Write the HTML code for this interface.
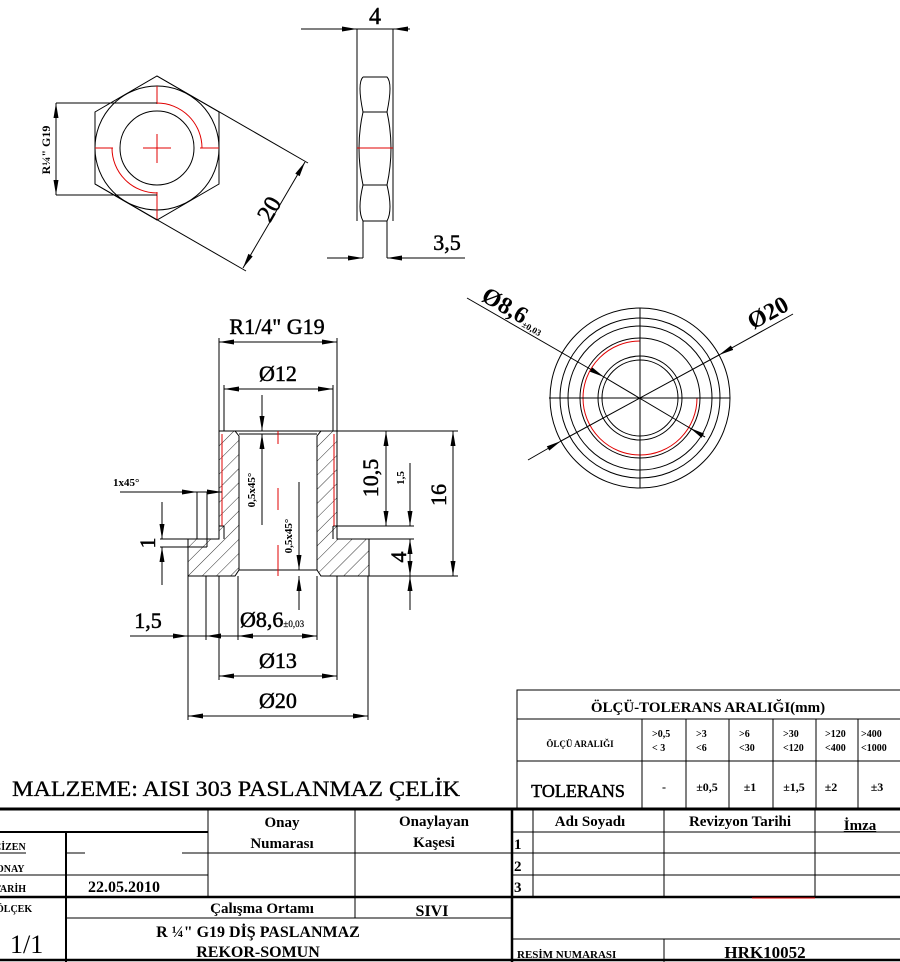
<!DOCTYPE html>
<html><head><meta charset="utf-8"><style>
html,body{margin:0;padding:0;background:#fff}
svg{display:block}
text{font-family:"Liberation Serif",serif;fill:#000}
.b{font-weight:bold}
.d{stroke:#000;stroke-width:0.5}
</style></head><body>
<svg width="900" height="962" viewBox="0 0 900 962" xmlns="http://www.w3.org/2000/svg">
<defs>
<marker id="a" markerUnits="userSpaceOnUse" markerWidth="16" markerHeight="8" refX="15" refY="4" orient="auto-start-reverse"><path d="M0,1.5 L15,4 L0,6.5 z" fill="#000"/></marker>
<pattern id="h" patternUnits="userSpaceOnUse" width="10" height="10" patternTransform="rotate(45)"><line x1="0" y1="0" x2="0" y2="10" stroke="#000" stroke-width="0.8"/></pattern>
</defs>
<g stroke="#000" stroke-width="1" fill="none">
<polygon points="157,76 219,112 219,184 157,220 95,184 95,112"/>
<circle cx="157" cy="148" r="62"/>
<circle cx="157" cy="148" r="37"/>
<g stroke="#e00000">
<path d="M157,103 A45,45 0 0 1 202,148"/>
<path d="M112,148 A45,45 0 0 0 157,193"/>
<line x1="95" y1="148" x2="113" y2="148"/><line x1="200" y1="148" x2="219" y2="148"/>
<line x1="157" y1="86" x2="157" y2="104"/><line x1="157" y1="192" x2="157" y2="220"/>
<line x1="143" y1="148" x2="171" y2="148"/><line x1="157" y1="134" x2="157" y2="163"/>
</g>
<line x1="56" y1="103" x2="157" y2="103"/><line x1="56" y1="195" x2="157" y2="195"/>
<line x1="56" y1="103" x2="56" y2="195" marker-start="url(#a)" marker-end="url(#a)"/>
<line x1="157" y1="76" x2="308" y2="163"/>
<line x1="95" y1="184" x2="246" y2="271"/>
<line x1="305" y1="162" x2="243" y2="268" marker-start="url(#a)" marker-end="url(#a)"/>
<line x1="357" y1="29" x2="357" y2="221"/><line x1="393" y1="29" x2="393" y2="221"/>
<path d="M363,77 L387,77 Q393,83 387,112 L363,112 Q357,83 363,77"/>
<path d="M363,112 L387,112 Q395,148 387,185 L363,185 Q355,148 363,112"/>
<path d="M363,185 L387,185 Q393,210 387,221 L363,221 Q357,210 363,185"/>
<line x1="363" y1="221" x2="363" y2="258"/><line x1="387" y1="221" x2="387" y2="258"/>
<line x1="357" y1="148" x2="393" y2="148" stroke="#e00000"/>
<line x1="301" y1="29" x2="357" y2="29" marker-end="url(#a)"/>
<line x1="410" y1="29" x2="393" y2="29" marker-end="url(#a)"/>
<line x1="357" y1="29" x2="393" y2="29"/>
<line x1="327" y1="258" x2="363" y2="258" marker-end="url(#a)"/>
<line x1="465" y1="258" x2="387" y2="258" marker-end="url(#a)"/>
<circle cx="640" cy="398" r="90"/><circle cx="640" cy="398" r="80"/><circle cx="640" cy="398" r="72"/>
<circle cx="640" cy="398" r="60"/><circle cx="640" cy="398" r="42"/><circle cx="640" cy="398" r="38"/>
<path d="M640,341 A57,57 0 1 0 697,398" stroke="#e00000"/>
<line x1="549" y1="398" x2="730" y2="398"/><line x1="640" y1="308" x2="640" y2="488"/>
<line x1="467" y1="298" x2="604" y2="377" marker-end="url(#a)"/>
<line x1="604" y1="377" x2="705" y2="437"/>
<line x1="705" y1="437" x2="690" y2="428" marker-end="url(#a)"/>
<line x1="528" y1="460" x2="561" y2="441" marker-end="url(#a)"/>
<line x1="561" y1="441" x2="719" y2="355"/>
<line x1="793" y1="314" x2="719" y2="355" marker-end="url(#a)"/>
<path d="M219,431 L235,431 L239,436 L239,570 L235,576 L188,576 L188,539 L219,539 Z" fill="url(#h)"/>
<path d="M337,431 L321,431 L317,436 L317,570 L321,576 L369,576 L369,539 L337,539 Z" fill="url(#h)"/>
<line x1="219" y1="431" x2="337" y2="431"/>
<line x1="239" y1="434" x2="317" y2="434"/><line x1="239" y1="570" x2="317" y2="570"/>
<line x1="224" y1="526" x2="224" y2="539"/><line x1="333" y1="526" x2="333" y2="539"/>
<line x1="219" y1="526" x2="224" y2="526"/><line x1="333" y1="526" x2="337" y2="526"/>
<line x1="222" y1="434" x2="222" y2="526" stroke="#e00000"/>
<line x1="334" y1="434" x2="334" y2="526" stroke="#e00000"/>
<g stroke="#e00000"><line x1="278" y1="431" x2="278" y2="444"/><line x1="278" y1="488" x2="278" y2="510"/><line x1="278" y1="545" x2="278" y2="576"/></g>
<line x1="219" y1="338" x2="219" y2="431"/><line x1="337" y1="338" x2="337" y2="431"/>
<line x1="219" y1="342" x2="337" y2="342" marker-start="url(#a)" marker-end="url(#a)"/>
<line x1="224" y1="385" x2="224" y2="431"/><line x1="333" y1="385" x2="333" y2="431"/>
<line x1="224" y1="389" x2="333" y2="389" marker-start="url(#a)" marker-end="url(#a)"/>
<line x1="337" y1="431" x2="458" y2="431"/><line x1="337" y1="526" x2="414" y2="526"/>
<line x1="369" y1="539" x2="414" y2="539"/><line x1="369" y1="576" x2="458" y2="576"/>
<line x1="386" y1="431" x2="386" y2="526" marker-start="url(#a)" marker-end="url(#a)"/>
<line x1="453" y1="431" x2="453" y2="576" marker-start="url(#a)" marker-end="url(#a)"/>
<line x1="410" y1="463" x2="410" y2="526" marker-end="url(#a)"/>
<line x1="410" y1="576" x2="410" y2="539" marker-end="url(#a)"/>
<line x1="410" y1="539" x2="410" y2="576" marker-end="url(#a)"/>
<line x1="410" y1="610" x2="410" y2="576" marker-end="url(#a)"/>
<line x1="120" y1="492" x2="197" y2="492" marker-end="url(#a)"/>
<line x1="197" y1="492" x2="222" y2="492" marker-end="url(#a)"/>
<line x1="197" y1="492" x2="197" y2="539"/><line x1="207" y1="492" x2="207" y2="547"/>
<line x1="160" y1="539" x2="188" y2="539"/><line x1="160" y1="547" x2="207" y2="547"/>
<line x1="162" y1="502" x2="162" y2="539" marker-end="url(#a)"/>
<line x1="162" y1="585" x2="162" y2="547" marker-end="url(#a)"/>
<line x1="262" y1="395" x2="262" y2="431" marker-end="url(#a)"/>
<line x1="262" y1="525" x2="262" y2="434" marker-end="url(#a)"/>
<line x1="299" y1="482" x2="299" y2="570" marker-end="url(#a)"/>
<line x1="299" y1="610" x2="299" y2="576" marker-end="url(#a)"/>
<line x1="188" y1="576" x2="188" y2="720"/><line x1="206" y1="576" x2="206" y2="640"/>
<line x1="219" y1="576" x2="219" y2="680"/><line x1="238" y1="576" x2="238" y2="640"/>
<line x1="317" y1="576" x2="317" y2="640"/><line x1="337" y1="576" x2="337" y2="680"/>
<line x1="368" y1="576" x2="368" y2="720"/>
<line x1="130" y1="636" x2="188" y2="636" marker-end="url(#a)"/>
<line x1="188" y1="636" x2="238" y2="636"/>
<line x1="224" y1="636" x2="206" y2="636" marker-end="url(#a)"/>
<line x1="238" y1="636" x2="317" y2="636" marker-start="url(#a)" marker-end="url(#a)"/>
<line x1="219" y1="676" x2="337" y2="676" marker-start="url(#a)" marker-end="url(#a)"/>
<line x1="188" y1="716" x2="368" y2="716" marker-start="url(#a)" marker-end="url(#a)"/>
<rect x="517" y="690" width="390" height="118"/>
<line x1="517" y1="719" x2="900" y2="719"/><line x1="517" y1="761" x2="900" y2="761"/>
<line x1="642" y1="719" x2="642" y2="808"/><line x1="686" y1="719" x2="686" y2="808"/>
<line x1="729" y1="719" x2="729" y2="808"/><line x1="773" y1="719" x2="773" y2="808"/>
<line x1="816" y1="719" x2="816" y2="808"/><line x1="858" y1="719" x2="858" y2="808"/>
<line x1="0" y1="809" x2="900" y2="809" stroke-width="3"/>
<line x1="0" y1="897" x2="900" y2="897" stroke-width="2.5"/>
<line x1="0" y1="960" x2="900" y2="960" stroke-width="2.5"/>
<line x1="512" y1="809" x2="512" y2="962" stroke-width="2.5"/>
<line x1="0" y1="832" x2="208" y2="832" stroke-width="2"/>
<line x1="66" y1="832" x2="66" y2="962" stroke-width="2"/>
<line x1="208" y1="809" x2="208" y2="897"/>
<line x1="355" y1="809" x2="355" y2="918"/>
<line x1="0" y1="853" x2="26" y2="853"/><line x1="66" y1="853" x2="85" y2="853"/><line x1="182" y1="853" x2="512" y2="853"/>
<line x1="0" y1="875" x2="208" y2="875"/>
<line x1="66" y1="918" x2="512" y2="918"/>
<line x1="533" y1="809" x2="533" y2="897"/><line x1="664" y1="809" x2="664" y2="897"/><line x1="815" y1="809" x2="815" y2="897"/>
<line x1="512" y1="832" x2="900" y2="832"/><line x1="512" y1="853" x2="900" y2="853"/><line x1="512" y1="875" x2="900" y2="875"/>
<line x1="512" y1="939" x2="900" y2="939"/><line x1="664" y1="939" x2="664" y2="962"/>
<line x1="752" y1="898" x2="815" y2="898" stroke="#e00000"/>
</g>
<g class="d">
<text x="375" y="24" font-size="24" text-anchor="middle">4</text>
<text x="447" y="250" font-size="22" text-anchor="middle">3,5</text>
<text transform="translate(276,213) rotate(-60)" font-size="24" text-anchor="middle">20</text>
<text x="277" y="334" font-size="22" text-anchor="middle">R1/4" G19</text>
<text x="278" y="381" font-size="22" text-anchor="middle">Ø12</text>
<text transform="translate(378,478) rotate(-90)" font-size="22" text-anchor="middle">10,5</text>
<text transform="translate(446,495) rotate(-90)" font-size="22" text-anchor="middle">16</text>
<text transform="translate(406,557) rotate(-90)" font-size="22" text-anchor="middle">4</text>
<text transform="translate(155,543) rotate(-90)" font-size="22" text-anchor="middle">1</text>
<text x="148" y="628" font-size="22" text-anchor="middle">1,5</text>
<text x="240" y="627" font-size="22">Ø8,6<tspan font-size="9" stroke-width="0.2">±0,03</tspan></text>
<text x="278" y="668" font-size="22" text-anchor="middle">Ø13</text>
<text x="278" y="708" font-size="22" text-anchor="middle">Ø20</text>
<text x="12" y="796" font-size="22" textLength="448" lengthAdjust="spacingAndGlyphs" stroke-width="0.3">MALZEME: AISI 303 PASLANMAZ ÇELİK</text>
</g>
<text transform="translate(50,150) rotate(-90)" font-size="12" text-anchor="middle" class="b">R¼" G19</text>
<text transform="translate(480,300) rotate(30)" font-size="24" font-family="Liberation Sans" class="b">Ø8,6<tspan font-size="9" dy="2">±0,03</tspan></text>
<text transform="translate(753,330) rotate(-29)" font-size="24" font-family="Liberation Sans" class="b">Ø20</text>
<text transform="translate(404,478) rotate(-90)" font-size="11" text-anchor="middle" class="b">1,5</text>
<text x="113" y="486" font-size="11" class="b">1x45°</text>
<text transform="translate(255,490) rotate(-90)" font-size="11" text-anchor="middle" class="b">0,5x45°</text>
<text transform="translate(292,536) rotate(-90)" font-size="11" text-anchor="middle" class="b">0,5x45°</text>
<text x="708" y="712" font-size="15" text-anchor="middle" class="b">ÖLÇÜ-TOLERANS ARALIĞI(mm)</text>
<text x="580" y="747" font-size="9" text-anchor="middle" class="b">ÖLÇÜ ARALIĞI</text>
<g font-size="10" class="b">
<text x="652" y="737">&gt;0,5</text><text x="652" y="751">&lt; 3</text>
<text x="696" y="737">&gt;3</text><text x="696" y="751">&lt;6</text>
<text x="739" y="737">&gt;6</text><text x="739" y="751">&lt;30</text>
<text x="783" y="737">&gt;30</text><text x="783" y="751">&lt;120</text>
<text x="825" y="737">&gt;120</text><text x="825" y="751">&lt;400</text>
<text x="861" y="737">&gt;400</text><text x="861" y="751">&lt;1000</text>
</g>
<text x="578" y="797" font-size="18" text-anchor="middle" class="d" stroke-width="0.3">TOLERANS</text>
<g font-size="12" class="b" text-anchor="middle">
<text x="664" y="791">-</text><text x="707" y="791">±0,5</text><text x="750" y="791">±1</text>
<text x="794" y="791">±1,5</text><text x="831" y="791">±2</text><text x="877" y="791">±3</text>
</g>
<g font-size="10" class="b">
<text x="-6" y="850">ÇİZEN</text><text x="-4" y="872">ONAY</text><text x="-6" y="892">TARİH</text><text x="-4" y="912">ÖLÇEK</text>
</g>
<text x="10" y="953" font-size="26">1/1</text>
<text x="88" y="892" font-size="16" class="b">22.05.2010</text>
<g font-size="15" class="b" text-anchor="middle">
<text x="282" y="827">Onay</text><text x="282" y="848">Numarası</text>
<text x="434" y="826">Onaylayan</text><text x="434" y="847">Kaşesi</text>
<text x="262" y="913">Çalışma Ortamı</text>
<text x="590" y="826">Adı Soyadı</text><text x="740" y="826">Revizyon Tarihi</text>
<text x="860" y="830" text-decoration="underline">İmza</text>
</g>
<text x="432" y="916" font-size="16" text-anchor="middle" class="b">SIVI</text>
<text x="258" y="937" font-size="16" text-anchor="middle" class="b">R ¼"  G19 DİŞ PASLANMAZ</text>
<text x="258" y="957" font-size="16" text-anchor="middle" class="b">REKOR-SOMUN</text>
<g font-size="15" class="b"><text x="514" y="849">1</text><text x="514" y="871">2</text><text x="514" y="892">3</text></g>
<text x="517" y="958" font-size="11" class="b">RESİM NUMARASI</text>
<text x="765" y="958" font-size="17" class="b" text-anchor="middle">HRK10052</text>
</svg>
</body></html>
